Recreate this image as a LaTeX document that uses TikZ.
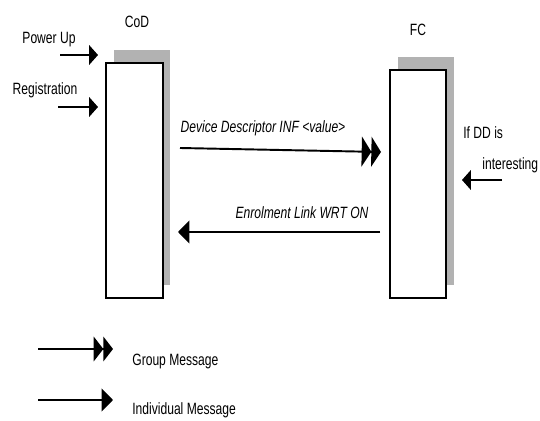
\documentclass[tikz,border=0pt]{standalone}
\usepackage{fontspec}
\setmainfont[FakeStretch=0.74]{Liberation Sans}
\usetikzlibrary{arrows.meta,shadows}
\begin{document}
\begin{tikzpicture}[x=0.02cm,y=-0.02cm,font=\fontsize{9.3}{11}\selectfont,
	entity/.style={draw,line width=1pt,fill=white,inner sep=0pt,
		general shadow={fill=gray!60,shadow xshift=0.15cm,shadow yshift=0.26cm}},
	msg/.style={line width=1.1pt},
	single/.style={msg,-{Triangle[length=5pt,width=11pt]}},
	bigsingle/.style={msg,-{Triangle[length=6.5pt,width=13pt]}},
	group/.style={msg,-{Triangle[length=5.5pt,width=17pt]Triangle[length=5.5pt,width=17pt]}},
	smallgroup/.style={msg,-{Triangle[length=5.5pt,width=14pt]Triangle[length=5.5pt,width=14pt]}}]
	\useasboundingbox (0,0) rectangle (540,421);
	% the two entities
	\node[entity,minimum width=1.14cm,minimum height=4.7cm] (cod) at (134.5,180.5) {};
	\node[entity,minimum width=1.12cm,minimum height=4.56cm] (fc) at (418,184) {};
	\node (codname) at (137,22) {CoD};
	\node (fcname) at (418,30) {FC};
	% triggers
	\coordinate (pu1) at (60,55); \coordinate (pu2) at (98,55);
	\coordinate (reg1) at (58,107); \coordinate (reg2) at (98,107);
	\coordinate (dd1) at (502,180); \coordinate (dd2) at (462,180);
	\draw[single] (pu1) -- (pu2);
	\draw[single] (reg1) -- (reg2);
	\draw[single] (dd1) -- (dd2);
	\node (putext) at (49,40) {Power Up};
	\node (regtext) at (45,90) {Registration};
	\node[right,inner sep=0pt] (ddtext) at (463,133) {If DD is};
	\node[right,inner sep=0pt] (inttext) at (482,165) {interesting};
	% messages
	\coordinate (inf1) at (180,148); \coordinate (inf2) at (381,152);
	\coordinate (enr1) at (380,232); \coordinate (enr2) at (178,232);
	\draw[group] (inf1) -- (inf2);
	\draw[bigsingle] (enr1) -- (enr2);
	\node (inftext) at (263,128) {\itshape Device Descriptor INF <value>};
	\node (enrtext) at (302,213) {\itshape Enrolment Link WRT ON};
	% legend
	\coordinate (gm1) at (38,349); \coordinate (gm2) at (113,349);
	\coordinate (im1) at (38,400); \coordinate (im2) at (113,400);
	\draw[smallgroup] (gm1) -- (gm2);
	\draw[bigsingle] (im1) -- (im2);
	\node[right,inner sep=0pt] (gmtext) at (132,361) {Group Message};
	\node[right,inner sep=0pt] (imtext) at (132,410) {Individual Message};
\end{tikzpicture}
\end{document}
